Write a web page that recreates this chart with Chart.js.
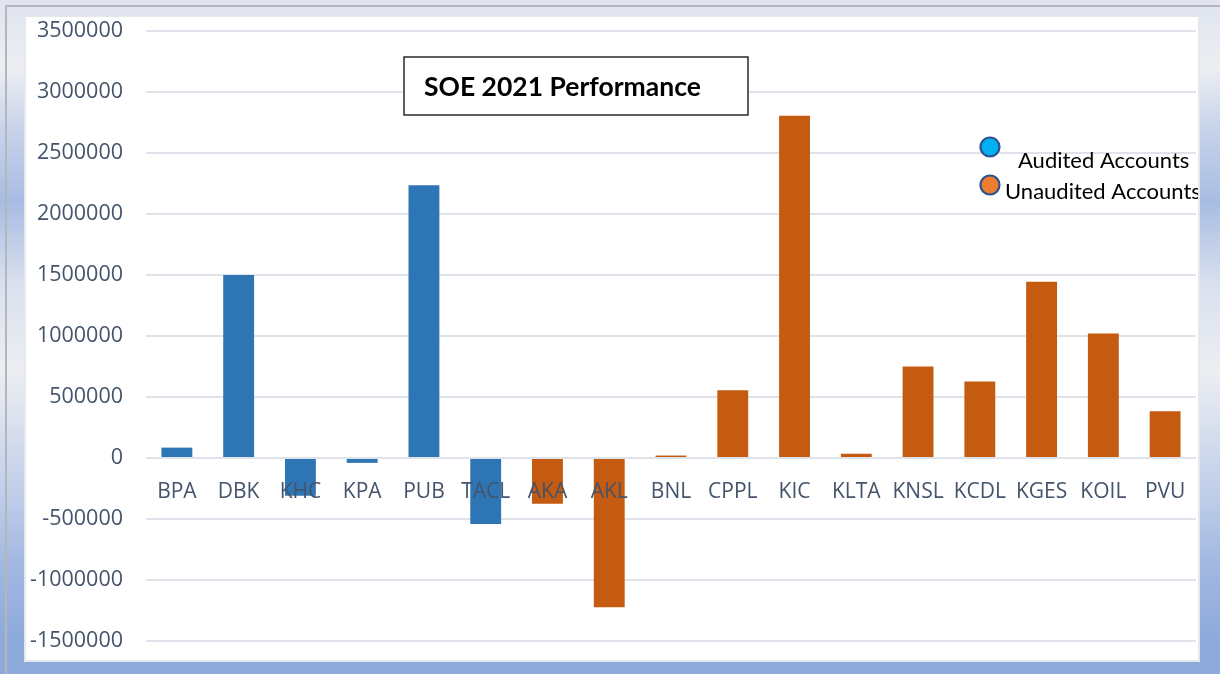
<!DOCTYPE html>
<html><head><meta charset="utf-8">
<script src="https://cdn.jsdelivr.net/npm/chart.js@4"></script>
<style>
html,body{margin:0;padding:0;}
body{width:1220px;height:674px;overflow:hidden;position:relative;
background:linear-gradient(to bottom,#dfe4ef 0%,#eceef2 10%,#c5d1ea 20%,#a8bce2 30%,#d9e0ee 42%,#eceef2 55%,#c3d0ea 72%,#9fb6e0 85%,#8eaadb 95%,#8eaadb 100%);}
#frame{position:absolute;left:5px;top:5px;right:0;bottom:0;border-left:2px solid #b4b6ba;border-top:2px solid #b4b6ba;}
#panel{position:absolute;left:26px;top:17px;width:1172px;height:643px;background:#fff;box-shadow:0 0 0 2px #e4e7ec;}
</style></head>
<body>
<div id="frame"></div>
<div id="panel"><canvas id="c" width="1172" height="643"></canvas></div>
<script>
const categories = ['BPA','DBK','KHC','KPA','PUB','TACL','AKA','AKL','BNL','CPPL','KIC','KLTA','KNSL','KCDL','KGES','KOIL','PVU'];
const auditedValues = [85000,1500000,-310000,-40000,2235000,-540000,null,null,null,null,null,null,null,null,null,null,null];
const unauditedValues = [null,null,null,null,null,null,-375000,-1223000,20000,555000,2805000,35000,750000,628000,1444000,1020000,383000];
const yMin = -1500000, yMax = 3500000, yStep = 500000;
const chartTitle = 'SOE 2021 Performance';
const legendLabels = ['Audited Accounts','Unaudited Accounts'];

const decor = {
  id:'decor',
  afterDraw(chart){
    const ctx = chart.ctx;
    ctx.save();
    // title box
    ctx.fillStyle = '#fff';
    ctx.fillRect(378,40,344,58);
    ctx.strokeStyle = '#2b2b2b';
    ctx.lineWidth = 1.5;
    ctx.strokeRect(378,40,344,58);
    ctx.fillStyle = '#000';
    ctx.font = 'bold 26.5px Lato';
    ctx.textBaseline = 'alphabetic';
    ctx.textAlign = 'left';
    ctx.fillText(chartTitle, 398, 79);
    // legend
    const markers = [{x:964,y:130,fill:'#00b0f0'},{x:964,y:168,fill:'#ed7d31'}];
    markers.forEach(m=>{
      ctx.beginPath();
      ctx.arc(m.x,m.y,9.5,0,Math.PI*2);
      ctx.fillStyle = m.fill; ctx.fill();
      ctx.lineWidth = 2.2; ctx.strokeStyle = '#2f528f'; ctx.stroke();
    });
    ctx.fillStyle = '#000';
    ctx.font = '22px Lato';
    ctx.fillText(legendLabels[0], 992, 151);
    ctx.fillText(legendLabels[1], 979, 182);
    ctx.restore();
  }
};

new Chart(document.getElementById('c'), {
  type:'bar',
  data:{
    labels:categories,
    datasets:[
      {label:legendLabels[0], data:auditedValues, backgroundColor:'#2e75b6', borderWidth:0},
      {label:legendLabels[1], data:unauditedValues, backgroundColor:'#c55a11', borderWidth:0}
    ]
  },
  options:{
    responsive:false, animation:false, devicePixelRatio:1,
    datasets:{bar:{grouped:false, barPercentage:0.5, categoryPercentage:1}},
    layout:{padding:{top:14,right:2,bottom:19,left:0}},
    plugins:{legend:{display:false}, title:{display:false}, tooltip:{enabled:false}},
    scales:{
      y:{
        min:yMin, max:yMax,
        ticks:{stepSize:yStep, color:'#44546a', font:{family:'Open Sans', size:21.5}, padding:23,
          callback:v=>String(v)},
        grid:{color:'#dfe3e9', lineWidth:2, drawTicks:false},
        border:{display:false},
        afterFit:s=>{s.width=120; s.paddingTop=0; s.paddingBottom=0;}
      },
      x:{
        position:{y:0},
        grid:{display:false}, border:{display:false},
        ticks:{z:1, color:'#44546a', font:{family:'Open Sans', size:21}, padding:13, maxRotation:0, autoSkip:false},
        afterFit:s=>{s.height=0; s.paddingLeft=0; s.paddingRight=0; s.paddingTop=0; s.paddingBottom=0;}
      }
    }
  },
  plugins:[decor]
});
</script>
</body></html>
